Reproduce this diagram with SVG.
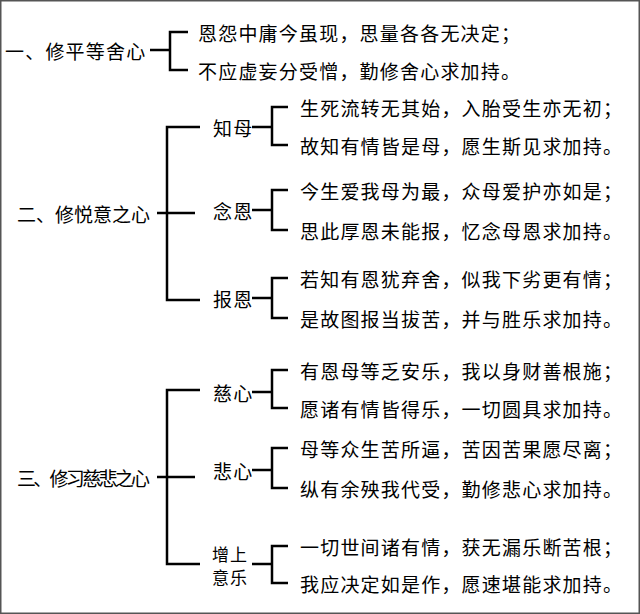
<svg xmlns="http://www.w3.org/2000/svg" width="640" height="614" viewBox="0 0 640 614">
<style>
text{font-family:"Noto Sans CJK SC",sans-serif;font-size:19px;fill:#000;dominant-baseline:central;letter-spacing:1.2px}
.h{letter-spacing:0}
.s{font-size:17px;letter-spacing:1px}
.l{fill:none;stroke:#000;stroke-width:2.5}
</style>
<rect x="0.5" y="0.5" width="639" height="613" fill="#fff" stroke="#555" stroke-width="2"/>
<g id="connectors" class="l">
<path d="M150 50H170M188 32H170V70H188"/>
<path d="M157 213H195M200 127H167V300H200"/>
<path d="M252 127H272M288 107H272V145H288"/>
<path d="M252 210H272M288 190H272V230H288"/>
<path d="M252 298H272M288 278H272V318H288"/>
<path d="M157 477H195M200 390H167V564H200"/>
<path d="M252 392H272M288 370H272V408H288"/>
<path d="M252 470H272M288 448H272V488H288"/>
<path d="M252 564H272M288 546H272V583H288"/>
</g>
<g id="n1"><text x="5" y="50">一、修平等舍心</text><text x="198" y="32">恩怨中庸今虽现，思量各各无决定；</text><text x="198" y="70">不应虚妄分受憎，勤修舍心求加持。</text></g>
<g id="n2"><text class="h" x="17" y="213">二、修悦意之心</text></g>
<g id="n2a"><text x="213" y="127">知母</text><text x="300" y="107">生死流转无其始，入胎受生亦无初；</text><text x="300" y="145">故知有情皆是母，愿生斯见求加持。</text></g>
<g id="n2b"><text x="213" y="210">念恩</text><text x="300" y="190">今生爱我母为最，众母爱护亦如是；</text><text x="300" y="230">思此厚恩未能报，忆念母恩求加持。</text></g>
<g id="n2c"><text x="213" y="298">报恩</text><text x="300" y="278">若知有恩犹弃舍，似我下劣更有情；</text><text x="300" y="318">是故图报当拔苦，并与胜乐求加持。</text></g>
<g id="n3"><text class="h" x="17" y="477" textLength="133">三、修习慈悲之心</text></g>
<g id="n3a"><text x="213" y="392">慈心</text><text x="300" y="370">有恩母等乏安乐，我以身财善根施；</text><text x="300" y="408">愿诸有情皆得乐，一切圆具求加持。</text></g>
<g id="n3b"><text x="213" y="470">悲心</text><text x="300" y="448">母等众生苦所逼，苦因苦果愿尽离；</text><text x="300" y="488">纵有余殃我代受，勤修悲心求加持。</text></g>
<g id="n3c"><text class="s" x="212" y="553">增上</text><text class="s" x="212" y="576">意乐</text><text x="300" y="546">一切世间诸有情，获无漏乐断苦根；</text><text x="300" y="583">我应决定如是作，愿速堪能求加持。</text></g>
</svg>
